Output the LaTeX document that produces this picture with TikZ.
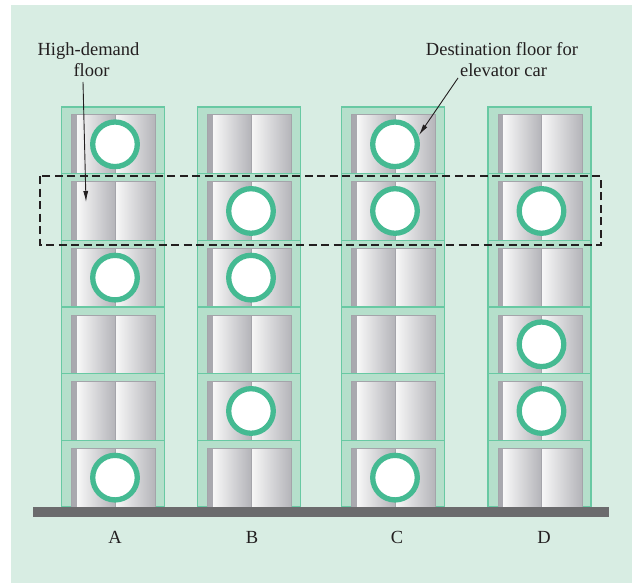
\documentclass[tikz,border=0pt]{standalone}
\usepackage{fontspec}
\setmainfont{Liberation Serif}
\usetikzlibrary{arrows.meta}
\definecolor{bg}{HTML}{D8EDE3}
\definecolor{shaft}{HTML}{B5DFCB}
\definecolor{shaftline}{HTML}{68C9A3}
\definecolor{ring}{HTML}{45BA92}
\definecolor{doorline}{HTML}{A4A4AA}
\definecolor{strip}{HTML}{A9A9AF}
\definecolor{panelL}{HTML}{F8F8F8}
\definecolor{panelR}{HTML}{B4B4B9}
\definecolor{ground}{HTML}{6B6B6D}
\definecolor{ink}{HTML}{231F20}
\tikzset{
  lbl/.style={font=\fontsize{18.5}{21}\selectfont, text=ink, inner sep=0pt, anchor=base},
  callout/.style={draw=ink, line width=0.9pt, -{Latex[length=11pt,width=5pt]}},
  carring/.style={draw=ring, line width=5.3pt, fill=white},
  cell/.style={fill=shaft, draw=shaftline, line width=1.1pt},
  doorframe/.style={draw=doorline, line width=1pt},
  demand/.style={draw=ink, line width=2.6pt, dash pattern=on 8pt off 4.5pt}
}
\begin{document}
\begin{tikzpicture}[x=1pt,y=-1pt]
\useasboundingbox (0,0) rectangle (632,583);
\fill[white] (0,0) rectangle (632,583);
\fill[bg] (11,5) rectangle (632,583);
% shafts
\foreach \sx/\lab/\lx/\cars in {61.5/A/115/{0,2,5}, 197.5/B/252/{1,2,4}, 341.5/C/397/{0,1,5}, 488/D/544/{1,3,4}} {
  \foreach \f in {0,...,5} {
    \pgfmathsetmacro\t{107+\f*66.667}
    \pgfmathsetmacro\b{\t+66.667}
    \path[cell] (\sx,\t) rectangle (\sx+103,\b);
    \fill[strip] (\sx+10,\t+8) rectangle (\sx+15.5,\b);
    \shade[left color=panelL, right color=panelR] (\sx+15.5,\t+8) rectangle (\sx+53.5,\b);
    \shade[left color=panelL, right color=panelR] (\sx+53.5,\t+8) rectangle (\sx+94,\b);
    \draw[doorframe] (\sx+10,\b) |- (\sx+94,\t+8) -- (\sx+94,\b);
    \draw[doorframe] (\sx+53.5,\t+8) -- (\sx+53.5,\b);
  }
  \foreach \f in \cars {
    \pgfmathsetmacro\cy{107+\f*66.667+37.3}
    \node[carring, circle, minimum size=44.6pt, inner sep=0pt, outer sep=0pt] (car\lab\f) at (\sx+53.5,\cy) {};
  }
  \node[lbl] (lab\lab) at (\lx,543) {\lab};
}
% ground
\fill[ground] (33,507) rectangle (609,517);
% high-demand floor outline
\draw[demand] (40,176) rectangle (601,245);
% callouts
\node[lbl] (hd1) at (88.5,56) {High-demand};
\node[lbl] (hd2) at (91.5,77) {floor};
\node[lbl] (dst1) at (502,56) {Destination floor for};
\node[lbl] (dst2) at (503.5,77) {elevator car};
\coordinate (hdstart) at (83,82);
\coordinate (hdtip) at (86,202);
\coordinate (dststart) at (458,78);
\coordinate (dsttip) at (419,135);
\draw[callout] (hdstart) -- (hdtip);
\draw[callout] (dststart) -- (dsttip);
\end{tikzpicture}
\end{document}
